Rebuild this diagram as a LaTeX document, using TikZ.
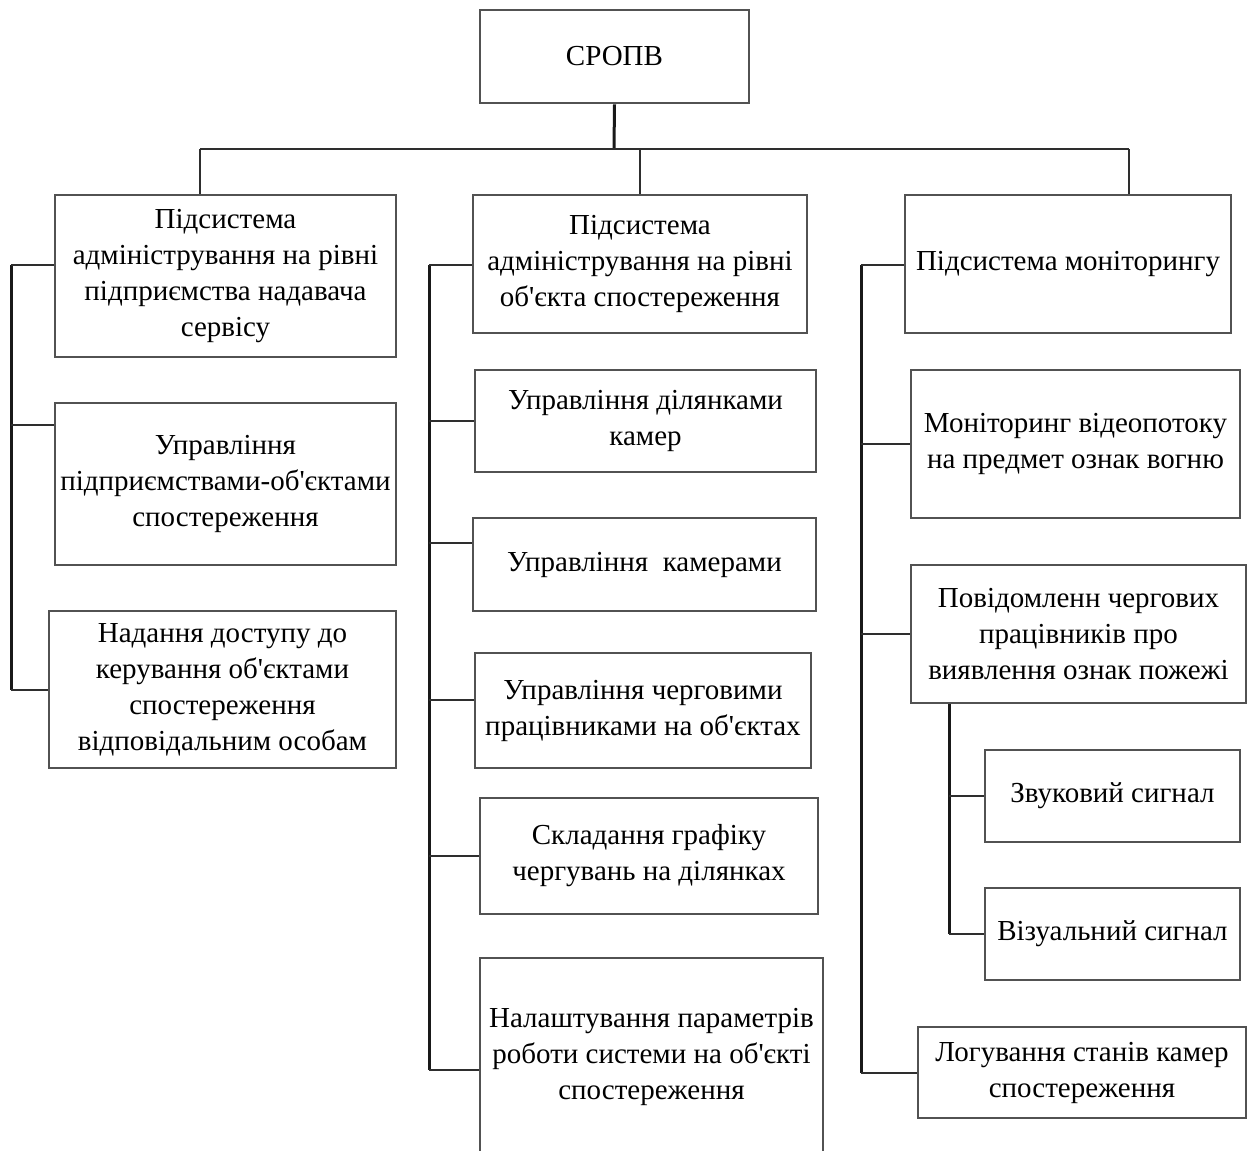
\documentclass[tikz,border=0pt]{standalone}
\usepackage{fontspec}
\setmainfont{Liberation Serif}
\begin{document}
\begin{tikzpicture}[x=1pt,y=-1pt,
  box/.style={draw=black!68, line width=2.8pt, fill=white, align=center,
    inner sep=0pt, font=\fontsize{29}{36}\selectfont, text=black},
  conn/.style={draw=black!82, line width=2.7pt},
  bus/.style={draw=black!90, line width=3pt}]
\useasboundingbox (0,0) rectangle (1254,1151);
\clip (0,0) rectangle (1254,1151);
\newcommand{\ap}{\textquotesingle}

% root
\node[box, minimum width=269pt, minimum height=93pt] (root) at (614.5,56.5) {СРОПВ};

% column 1
\node[box, minimum width=341pt, minimum height=162pt] (L1) at (225.5,276)
  {Підсистема\\адміністрування на рівні\\підприємства надавача\\сервісу};
\node[box, minimum width=341pt, minimum height=162pt] (L2) at (225.5,484)
  {Управління\\підприємствами-об\ap єктами\\спостереження};
\node[box, minimum width=347pt, minimum height=157pt] (L3) at (222.5,689.5)
  {Надання доступу до\\керування об\ap єктами\\спостереження\\відповідальним особам};

% column 2
\node[box, minimum width=334pt, minimum height=138pt] (M1) at (640,264)
  {Підсистема\\адміністрування на рівні\\об\ap єкта спостереження};
\node[box, minimum width=341pt, minimum height=102pt] (M2) at (645.5,421)
  {Управління ділянками\\камер};
\node[box, minimum width=343pt, minimum height=93pt] (M3) at (644.5,564.5)
  {Управління\ \ камерами};
\node[box, minimum width=336pt, minimum height=115pt] (M4) at (643,710.5)
  {Управління черговими\\працівниками на об\ap єктах};
\node[box, minimum width=338pt, minimum height=116pt] (M5) at (649,856)
  {Складання графіку\\чергувань на ділянках};
\node[box, minimum width=343pt, minimum height=198pt] (M6) at (651.5,1057)
  {Налаштування параметрів\\роботи системи на об\ap єкті\\спостереження};

% column 3
\node[box, minimum width=326pt, minimum height=138pt] (R1) at (1068,264)
  {Підсистема моніторингу};
\node[box, minimum width=329pt, minimum height=148pt] (R2) at (1075.5,444)
  {Моніторинг відеопотоку\\на предмет ознак вогню};
\node[box, minimum width=335pt, minimum height=138pt] (R3) at (1078.5,634)
  {Повідомленн чергових\\працівників про\\виявлення ознак пожежі};
\node[box, minimum width=255pt, minimum height=92pt] (R4) at (1112.5,796)
  {Звуковий сигнал};
\node[box, minimum width=255pt, minimum height=92pt] (R5) at (1112.5,934)
  {Візуальний сигнал};
\node[box, minimum width=328pt, minimum height=91pt] (R6) at (1082,1072.5)
  {Логування станів камер\\спостереження};

% top level links
\coordinate (j0) at (614,149);
\coordinate (bl) at (200,149);
\coordinate (bm) at (640,149);
\coordinate (br) at (1129,149);
\draw[bus] (root.south) -- (j0);
\draw[conn] (bl) -- (br);
\draw[conn] (bl) -- (bl |- L1.north);
\draw[conn] (bm) -- (M1.north);
\draw[conn] (br) -- (br |- R1.north);

% left bus
\coordinate (la) at (11,265);
\coordinate (lb) at (11,425);
\coordinate (lc) at (11,690);
\draw[bus] (la) -- (lc);
\draw[conn] (la) -- (la -| L1.west);
\draw[conn] (lb) -- (lb -| L2.west);
\draw[conn] (lc) -- (lc -| L3.west);

% middle bus
\coordinate (ma) at (429,265);
\coordinate (mb) at (429,421);
\coordinate (mc) at (429,543);
\coordinate (md) at (429,700);
\coordinate (me) at (429,856);
\coordinate (mf) at (429,1070);
\draw[bus] (ma) -- (mf);
\draw[conn] (ma) -- (ma -| M1.west);
\draw[conn] (mb) -- (mb -| M2.west);
\draw[conn] (mc) -- (mc -| M3.west);
\draw[conn] (md) -- (md -| M4.west);
\draw[conn] (me) -- (me -| M5.west);
\draw[conn] (mf) -- (mf -| M6.west);

% right bus
\coordinate (ra) at (861,265);
\coordinate (rb) at (861,444);
\coordinate (rc) at (861,634);
\coordinate (rf) at (861,1073);
\draw[bus] (ra) -- (rf);
\draw[conn] (ra) -- (ra -| R1.west);
\draw[conn] (rb) -- (rb -| R2.west);
\draw[conn] (rc) -- (rc -| R3.west);
\draw[conn] (rf) -- (rf -| R6.west);

% alarm sub-branch
\coordinate (sa) at (949,796);
\coordinate (sb) at (949,934);
\draw[bus] (sb |- R3.south) -- (sb);
\draw[conn] (sa) -- (R4.west);
\draw[conn] (sb) -- (R5.west);
\end{tikzpicture}
\end{document}
